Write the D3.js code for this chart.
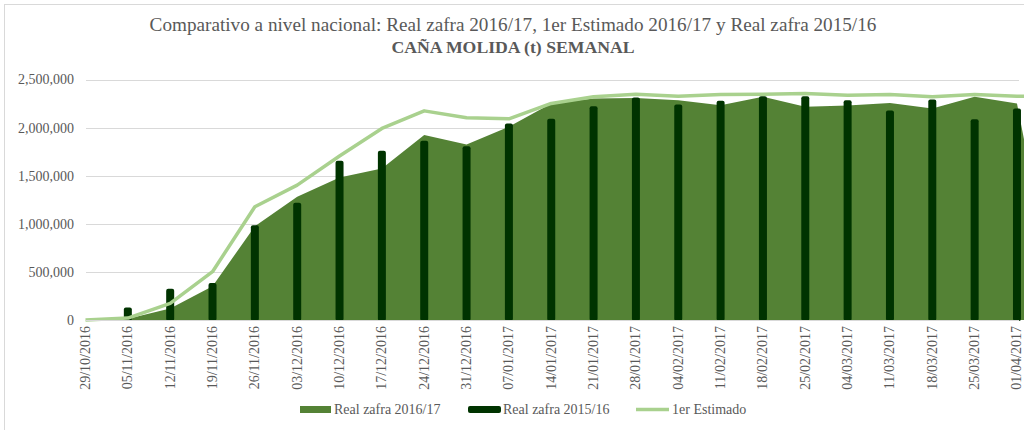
<!DOCTYPE html>
<html>
<head>
  <meta charset='utf-8'>
  <title>Caña molida semanal</title>
  <style>
    html, body { margin: 0; padding: 0; background: #ffffff; }
    svg { display: block; font-family: 'Liberation Serif', Tinos, 'Times New Roman', 'DejaVu Serif', serif; }
    svg text { font-family: 'Liberation Serif', Tinos, 'Times New Roman', 'DejaVu Serif', serif; fill: #595959; }
  </style>
  <script src='https://cdn.jsdelivr.net/npm/d3@7/dist/d3.min.js'></script>
</head>
<body>
  <svg id='chart' width='1024' height='430'></svg>
  <script>
    const FONT = "'Liberation Serif', Tinos, 'Times New Roman', 'DejaVu Serif', serif";

    // weekly categories (the last one falls just outside the visible frame)
    const dates = ['29/10/2016', '05/11/2016', '12/11/2016', '19/11/2016', '26/11/2016',
        '03/12/2016', '10/12/2016', '17/12/2016', '24/12/2016', '31/12/2016',
        '07/01/2017', '14/01/2017', '21/01/2017', '28/01/2017', '04/02/2017',
        '11/02/2017', '18/02/2017', '25/02/2017', '04/03/2017', '11/03/2017',
        '18/03/2017', '25/03/2017', '01/04/2017', '08/04/2017'];
    const real2016 = [0, 12000, 120000, 350000, 975000, 1280000, 1480000, 1575000,
        1922000, 1825000, 2008000, 2251000, 2303000, 2308000, 2285000, 2233000,
        2320000, 2216000, 2230000, 2257000, 2199000, 2320000, 2251000, 0];
    const real2015 = [0, 131000, 325000, 385000, 985000, 1218000, 1655000, 1759000,
        1863000, 1807000, 2043000, 2091000, 2223000, 2313000, 2240000, 2278000,
        2326000, 2326000, 2285000, 2178000, 2292000, 2088000, 2199000, null];
    const estimado = [0, 20000, 173000, 502000, 1177000, 1402000, 1705000, 1991000,
        2174000, 2102000, 2091000, 2251000, 2320000, 2347000, 2327000, 2344000,
        2347000, 2354000, 2337000, 2344000, 2320000, 2344000, 2327000, 2320000];
    const yTicks = [0, 500000, 1000000, 1500000, 2000000, 2500000];
    const titleLine1 = 'Comparativo a nivel nacional: Real zafra 2016/17, 1er Estimado 2016/17 y Real zafra 2015/16';
    const titleLine2 = 'CAÑA MOLIDA (t) SEMANAL';
    const legendNames = ['Real zafra 2016/17', 'Real zafra 2015/16', '1er Estimado'];

    const COLOR_AREA = '#548235';
    const COLOR_BAR = '#003300';
    const COLOR_LINE = '#a9d18e';

    const svg = d3.select('#chart');

    // chart frame (only left and top edges are visible)
    svg.append('rect')
        .attr('x', 4.5).attr('y', 4.5)
        .attr('width', 1100).attr('height', 500)
        .attr('fill', 'none')
        .attr('stroke', '#d9d9d9');

    const plotLeft = 86, plotRight = 1019;
    const x = d3.scalePoint()
        .domain(dates)
        .range([85.5, 85.5 + 42.34 * (dates.length - 1)]);
    const y = d3.scaleLinear()
        .domain([0, 2500000])
        .range([320, 79.5]);

    // gridlines
    svg.append('g')
        .selectAll('line')
        .data(yTicks.filter(d => d > 0))
        .join('line')
            .attr('x1', plotLeft).attr('x2', plotRight)
            .attr('y1', d => Math.round(y(d)) + 0.5)
            .attr('y2', d => Math.round(y(d)) + 0.5)
            .attr('stroke', '#d9d9d9');

    // y axis labels
    const yAxis = d3.axisLeft(y)
        .tickValues(yTicks)
        .tickFormat(d3.format(','))
        .tickSize(0)
        .tickPadding(0);
    svg.append('g')
        .attr('transform', 'translate(74, 0)')
        .call(yAxis)
        .attr('font-family', FONT)
        .attr('font-size', 14)
        .call(g => g.select('.domain').remove())
        .call(g => g.selectAll('text')
            .attr('fill', '#595959'));

    svg.append('clipPath')
        .attr('id', 'plot-clip')
        .append('rect')
            .attr('x', 0).attr('y', 0)
            .attr('width', 1024).attr('height', 340);
    const plot = svg.append('g').attr('clip-path', 'url(#plot-clip)');

    // Real zafra 2016/17 as area
    const area = d3.area()
        .x((d, i) => x(dates[i]))
        .y0(y(0))
        .y1(d => y(d));
    plot.append('path')
        .datum(real2016)
        .attr('d', area)
        .attr('fill', COLOR_AREA);

    // x axis line
    svg.append('line')
        .attr('x1', plotLeft).attr('x2', plotRight)
        .attr('y1', 320.5).attr('y2', 320.5)
        .attr('stroke', '#d9d9d9');

    // Real zafra 2015/16 as thin bars
    const barWidth = 8;
    plot.append('g')
        .selectAll('rect')
        .data(real2015.map((v, i) => ({ date: dates[i], value: v }))
            .filter(d => d.value))
        .join('rect')
            .attr('x', d => x(d.date) - barWidth / 2)
            .attr('y', d => y(d.value))
            .attr('width', barWidth)
            .attr('height', d => y(0) - y(d.value) + 1)
            .attr('rx', 2)
            .attr('fill', COLOR_BAR);

    // 1er Estimado line
    const line = d3.line()
        .x((d, i) => x(dates[i]))
        .y(d => y(d));
    plot.append('path')
        .datum(estimado)
        .attr('d', line)
        .attr('fill', 'none')
        .attr('stroke', COLOR_LINE)
        .attr('stroke-width', 3.5)
        .attr('stroke-linejoin', 'round');

    // x labels, rotated
    svg.append('g')
        .selectAll('text')
        .data(dates.slice(0, dates.length - 1))
        .join('text')
            .attr('transform', d => `translate(${x(d) + 4.5}, 326) rotate(-90)`)
            .attr('text-anchor', 'end')
            .attr('font-family', FONT)
            .attr('font-size', 14)
            .text(d => d);

    // titles
    svg.append('text')
        .attr('x', 513).attr('y', 31)
        .attr('text-anchor', 'middle')
        .attr('font-family', FONT)
        .attr('font-size', 19.2)
        .text(titleLine1);
    svg.append('text')
        .attr('x', 513).attr('y', 53)
        .attr('text-anchor', 'middle')
        .attr('font-family', FONT)
        .attr('font-size', 17.7)
        .attr('font-weight', 'bold')
        .text(titleLine2);

    // legend
    const legend = svg.append('g');
    legend.append('rect')
        .attr('x', 300).attr('y', 406).attr('width', 31).attr('height', 7)
        .attr('fill', COLOR_AREA);
    legend.append('rect')
        .attr('x', 468).attr('y', 406).attr('width', 33).attr('height', 7)
        .attr('rx', 2)
        .attr('fill', COLOR_BAR);
    legend.append('line')
        .attr('x1', 636).attr('x2', 669)
        .attr('y1', 409.5).attr('y2', 409.5)
        .attr('stroke', COLOR_LINE)
        .attr('stroke-width', 3.5);
    const legendX = [334, 503, 672];
    legend.selectAll('text.item')
        .data(legendNames)
        .join('text')
            .attr('class', 'item')
            .attr('x', (d, i) => legendX[i])
            .attr('y', 414)
            .attr('font-family', FONT)
            .attr('font-size', 14)
            .text(d => d);
  </script>
</body>
</html>
